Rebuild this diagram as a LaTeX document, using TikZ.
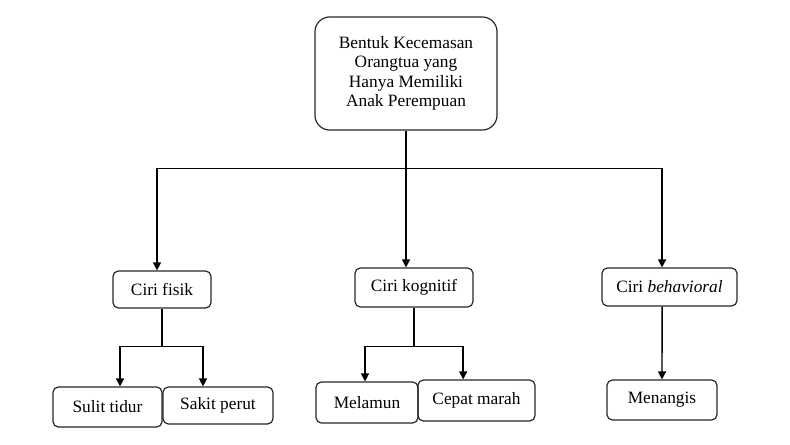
\documentclass[tikz,border=0pt]{standalone}
\usepackage{fontspec}
\setmainfont{Liberation Serif}
\usetikzlibrary{arrows.meta}
\begin{document}
\begin{tikzpicture}[x=0.75pt,y=-0.75pt,
  box/.style={draw=black!85, line width=0.9pt, rounded corners=4pt, align=center,
    font=\fontsize{13}{14.6}\selectfont, inner sep=0pt},
  conn/.style={line width=1.1pt, draw=black},
  arr/.style={conn, -{Triangle[length=6pt,width=6pt]}}]
\useasboundingbox (0,0) rectangle (790,445);
\node[box, rounded corners=11pt, minimum width=136.5pt, minimum height=84.75pt] (top) at (406,73.5)
  {Bentuk Kecemasan\\Orangtua yang\\Hanya Memiliki\\Anak Perempuan};
\node[box, minimum width=73.5pt, minimum height=27.75pt] (fisik) at (162,289.5) {Ciri fisik};
\node[box, minimum width=88.5pt, minimum height=29.25pt] (kog) at (414,287.5) {Ciri kognitif};
\node[box, minimum width=101.25pt, minimum height=28.5pt] (beh) at (669.5,287) {Ciri \textit{behavioral}};
\node[box, minimum width=81.75pt, minimum height=30pt] (sulit) at (107.5,407) {Sulit tidur};
\node[box, minimum width=82.5pt, minimum height=27.75pt] (sakit) at (218,405.5) {Sakit perut};
\node[box, minimum width=76.5pt, minimum height=30.75pt] (melamun) at (367,402.5) {Melamun};
\node[box, minimum width=87.75pt, minimum height=30.75pt] (cepat) at (476.5,400.5) {Cepat marah};
\node[box, minimum width=82.5pt, minimum height=30pt] (menangis) at (662,400) {Menangis};

\draw[conn] (top.south) -- ++(0,38) coordinate (hub);
\draw[arr] (hub) -| ([xshift=-3.75pt]fisik.north);
\draw[arr] (hub) -- (hub |- kog.north);
\draw[arr] (hub) -| ([xshift=-5.6pt]beh.north);

\draw[conn] (fisik.south) -- ++(0,38) coordinate (fb);
\draw[arr] (fb) -| ([xshift=9.4pt]sulit.north);
\draw[arr] (fb) -| ([xshift=-11.25pt]sakit.north);

\draw[conn] (kog.south) -- ++(0,39) coordinate (kb);
\draw[arr] (kb) -| ([xshift=-1.5pt]melamun.north);
\draw[arr] (kb) -| ([xshift=-10pt]cepat.north);

\draw[arr] ([xshift=-5.6pt]beh.south) -- (menangis.north);
\end{tikzpicture}
\end{document}
